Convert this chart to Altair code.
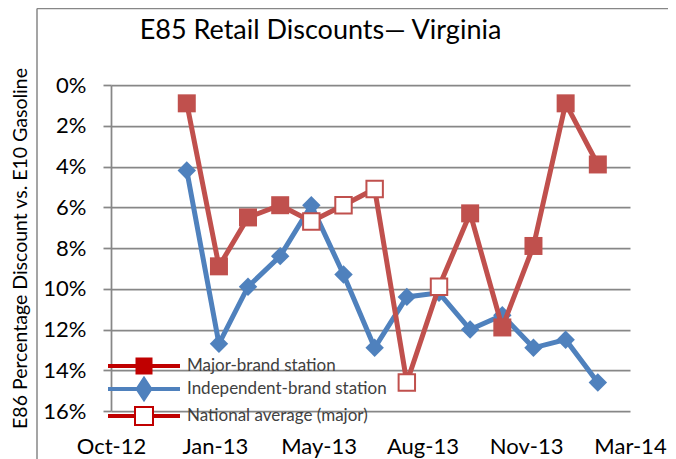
import altair as alt
import pandas as pd

# ---------------- data ----------------
months = ["2013-01-01", "2013-02-01", "2013-03-01", "2013-04-01", "2013-05-01",
          "2013-06-01", "2013-07-01", "2013-08-01", "2013-09-01", "2013-10-01",
          "2013-11-01", "2013-12-01", "2014-01-01", "2014-02-01"]
major_pct = [0.9, 8.9, 6.5, 5.9, 6.7, 5.9, 5.1, 14.6, 9.9, 6.3, 11.9, 7.9, 0.9, 3.9]
independent_pct = [4.2, 12.7, 9.9, 8.4, 5.9, 9.3, 12.9, 10.4, 10.2, 12.0, 11.3, 12.9, 12.5, 14.6]
national_months = ["2013-05-01", "2013-06-01", "2013-07-01", "2013-08-01", "2013-09-01"]
series_names = ["Major-brand station", "Independent-brand station", "National average (major)"]
x_tick_dates = [(2012, 10, 20), (2013, 1, 28), (2013, 5, 8), (2013, 8, 16), (2013, 11, 24), (2014, 3, 4)]
y_ticks_pct = [0, 2, 4, 6, 8, 10, 12, 14, 16]

title_text = "E85 Retail Discounts\u2014 Virginia"
y_title = "E86 Percentage Discount vs. E10 Gasoline"

# ---------------- styles ----------------
RED = "#C0504D"
LEG_RED = "#C00000"
BLUE = "#4F81BD"
GRID = "#878787"
FONT = "Lato"

red_df = pd.DataFrame({
    "date": months,
    "value": [v / 100 for v in major_pct],
    "series": [series_names[2] if m in national_months else series_names[0] for m in months],
})
blue_df = pd.DataFrame({
    "date": months,
    "value": [v / 100 for v in independent_pct],
    "series": series_names[1],
})
legend_df = pd.DataFrame({"series": series_names})
frame_df = pd.DataFrame({"k": [0]})

def dt(t):
    return alt.DateTime(year=t[0], month=t[1], date=t[2], utc=True)

x_enc = alt.X(
    "date:T",
    scale=alt.Scale(type="utc", domain=[dt(x_tick_dates[0]), dt(x_tick_dates[-1])]),
    axis=alt.Axis(
        values=[dt(t) for t in x_tick_dates], format="%b-%y", title=None,
        grid=False, ticks=False, tickSize=0, domain=False,
        labelFont=FONT, labelFontSize=22, labelColor="black",
        labelBaseline="alphabetic", labelPadding=42, labelFlush=False,
        labelOverlap=False,
    ),
)
y_enc = alt.Y(
    "value:Q",
    scale=alt.Scale(domain=[0, 0.16], reverse=True, nice=False, zero=False),
    axis=alt.Axis(
        values=[v / 100 for v in y_ticks_pct], format=".0%",
        grid=True, gridColor=GRID, gridWidth=1.75,
        domain=True, domainColor=GRID, domainWidth=1.75,
        ticks=True, tickColor=GRID, tickWidth=1.75, tickSize=8,
        labelFont=FONT, labelFontSize=22, labelColor="black", labelPadding=17,
        title=y_title, titleFont=FONT, titleFontSize=19.5, titleFontWeight="normal",
        titleColor="black", titleX=-91, titleY=163, titleAlign="center",
        titleBaseline="middle",
    ),
)

# outer chart-area frame (top and left edges; the rest lies outside the window)
frame_top = alt.Chart(frame_df).mark_rule(stroke=GRID, strokeWidth=1.5).encode(
    x=alt.value(-74), x2=alt.value(700), y=alt.value(-76.5)
)
frame_left = alt.Chart(frame_df).mark_rule(stroke=GRID, strokeWidth=1.5).encode(
    x=alt.value(-74), y=alt.value(-76.5), y2=alt.value(600)
)

blue_line = alt.Chart(blue_df).mark_line(color=BLUE, strokeWidth=5).encode(x=x_enc, y=y_enc)
blue_pts = alt.Chart(blue_df).mark_point(
    shape="diamond", filled=True, color=BLUE, size=340, opacity=1
).encode(x=x_enc, y=y_enc)
red_line = alt.Chart(red_df).mark_line(color=RED, strokeWidth=5).encode(x=x_enc, y=y_enc)
red_full = alt.Chart(red_df).transform_filter(
    alt.datum.series == series_names[0]
).mark_point(shape="square", filled=True, color=RED, size=324, opacity=1).encode(x=x_enc, y=y_enc)
red_hollow = alt.Chart(red_df).transform_filter(
    alt.datum.series == series_names[2]
).mark_point(
    shape="square", filled=True, fill="white", stroke=RED, strokeWidth=2,
    size=270, opacity=1, fillOpacity=1
).encode(x=x_enc, y=y_enc)

# legend symbols: line + marker, unit = 10 px
def rect(x1, x2, h):
    return f"M{x1},{-h}H{x2}V{h}H{x1}Z"

path_major = rect(-3.5, -0.75, 0.1) + rect(0.75, 3.5, 0.1) + "M-0.75,-0.75H0.75V0.75H-0.75Z"
path_indep = rect(-3.5, 3.5, 0.1) + "M0,-1.15L0.75,0L0,1.15L-0.75,0Z"
path_nat = rect(-3.5, -0.9, 0.1) + rect(0.9, 3.5, 0.1) + "M-0.9,-0.9H0.9V0.9H-0.9Z"

legend_cfg = alt.Legend(
    title=None, orient="none", legendX=22, legendY=270, symbolSize=400,
    symbolStrokeWidth=2, labelFont=FONT, labelFontSize=17, labelColor="#404040",
    labelOffset=32, labelLimit=400, rowPadding=-6, padding=0, symbolOpacity=1,
)
legend_layer = alt.Chart(legend_df).transform_filter("false").mark_point(
    opacity=1, filled=True
).encode(
    shape=alt.Shape("series:N", scale=alt.Scale(domain=series_names,
                    range=[path_major, path_indep, path_nat]), legend=legend_cfg),
    fill=alt.Fill("series:N", scale=alt.Scale(domain=series_names,
                  range=[LEG_RED, BLUE, "white"]), legend=legend_cfg),
    stroke=alt.Stroke("series:N", scale=alt.Scale(domain=series_names,
                      range=[LEG_RED, BLUE, LEG_RED]), legend=legend_cfg),
)

chart = alt.layer(
    frame_top, frame_left, blue_line, blue_pts, red_line, red_full, red_hollow, legend_layer
).properties(
    width=519, height=326,
    title=alt.TitleParams(
        text=title_text, font=FONT, fontSize=27, fontWeight="normal", color="black",
        anchor="middle", frame="group", baseline="alphabetic", offset=-58, dx=-50,
    ),
    padding={"left": 103, "top": 77, "right": 38, "bottom": 48},
    autosize=alt.AutoSizeParams(type="none"),
).configure_view(strokeWidth=0)

chart.save("out.html", embed_options={"renderer": "svg", "actions": False})
